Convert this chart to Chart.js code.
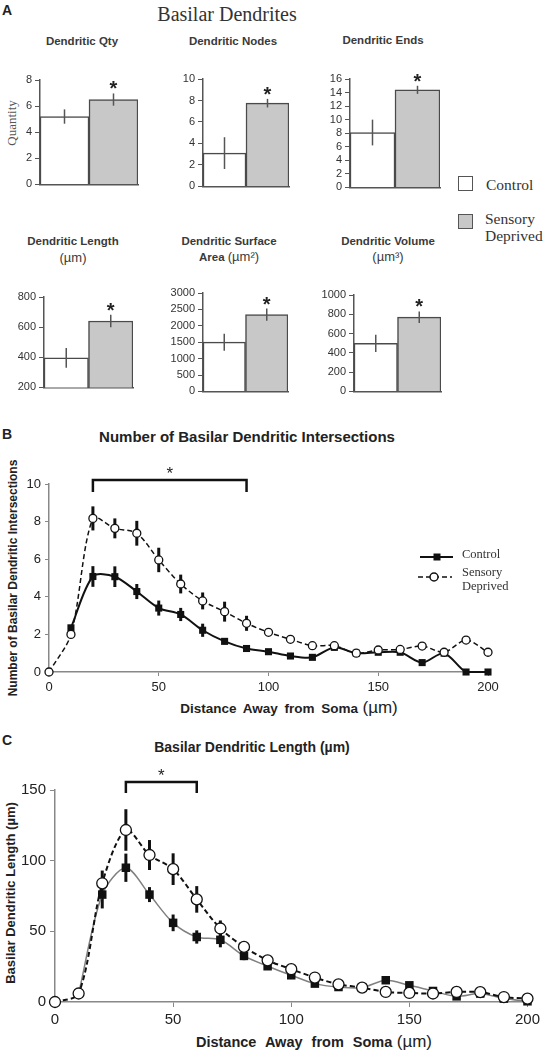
<!DOCTYPE html>
<html>
<head>
<meta charset="utf-8">
<script src="https://cdn.jsdelivr.net/npm/chart.js"></script>
<style>
  body { margin: 0; background: #fff; }
  #page { position: relative; width: 544px; height: 1050px; overflow: hidden; font-family: "Liberation Sans", Arial, sans-serif; color: #222; }
  .t { position: absolute; white-space: nowrap; line-height: 1; transform: translate(-50%, -50%); }
  .rot { transform: translate(-50%, -50%) rotate(-90deg); }
  .sub { font-weight: bold; font-size: 11.5px; color: #3a3a3a; }
  .serif { font-family: "Liberation Serif", "Times New Roman", serif; }
  .letter { position: absolute; font-weight: bold; font-size: 14px; line-height: 1; }
  .box { position: absolute; }
  .lgbox { position: absolute; width: 15px; height: 15px; border: 1.5px solid #555; box-sizing: border-box; }
</style>
</head>
<body>
<div id="page">
  <div class="letter" style="left:2px;top:3px">A</div>
  <div class="t serif" style="left:227px;top:14px;font-size:20px;color:#333">Basilar Dendrites</div>

  <div class="t sub" style="left:82px;top:42px">Dendritic Qty</div>
  <div class="t sub" style="left:233px;top:42px">Dendritic Nodes</div>
  <div class="t sub" style="left:383px;top:41px">Dendritic Ends</div>
  <div class="t sub" style="left:73px;top:242px">Dendritic Length</div>
  <div class="t sub" style="left:73px;top:257px;font-weight:normal;font-size:13px">(µm)</div>
  <div class="t sub" style="left:229px;top:242px">Dendritic Surface</div>
  <div class="t sub" style="left:229px;top:257px">Area <span style="font-weight:normal;font-size:13px">(µm²)</span></div>
  <div class="t sub" style="left:388px;top:242px">Dendritic Volume</div>
  <div class="t sub" style="left:388px;top:256px;font-weight:normal;font-size:13px">(µm³)</div>
  <div class="t rot serif" style="left:11px;top:123px;font-size:13px;color:#555">Quantity</div>

  <div class="lgbox" style="left:458px;top:176px;background:#fff"></div>
  <div class="serif" style="position:absolute;left:486px;top:176px;font-size:15.5px;line-height:17px;color:#333">Control</div>
  <div class="lgbox" style="left:458px;top:214px;background:#c8c8c8"></div>
  <div class="serif" style="position:absolute;left:485px;top:210px;font-size:15.5px;line-height:17px;color:#333">Sensory<br>Deprived</div>

  <div class="letter" style="left:2px;top:427px">B</div>
  <div class="t" style="left:247px;top:436px;font-weight:bold;font-size:15px">Number of Basilar Dendritic Intersections</div>
  <div class="t rot" style="left:13px;top:578px;font-weight:bold;font-size:12px">Number of Basilar Dendritic Intersections</div>
  <div class="t" style="left:289px;top:707px"><b style="font-size:13.5px;word-spacing:3px">Distance Away from Soma</b> <span style="font-size:17px">(µm)</span></div>

  <div class="letter" style="left:2px;top:733px">C</div>
  <div class="t" style="left:252px;top:747px;font-weight:bold;font-size:14px">Basilar Dendritic Length (µm)</div>
  <div class="t rot" style="left:10px;top:893px;font-weight:bold;font-size:13px">Basilar Dendritic Length (µm)</div>
  <div class="t" style="left:314px;top:1041px"><b style="font-size:14.5px;word-spacing:5px">Distance Away from Soma</b> <span style="font-size:17px">(µm)</span></div>
</div>

<script>
const FONT = '"Liberation Sans", Arial, sans-serif';
const SERIF = '"Liberation Serif", "Times New Roman", serif';

// ---- Panel A: means and error bars, [Control, Sensory Deprived] ----
const groups = ['Control', 'Sensory Deprived'];
const qtyMean = [5.2, 6.5];
const qtyErr = [0.55, 0.47];
const nodesMean = [3.1, 7.75];
const nodesErr = [1.48, 0.4];
const endsMean = [8.1, 14.4];
const endsErr = [1.9, 0.6];
const lengthMean = [396, 641];
const lengthErr = [65, 42];
const surfaceMean = [1500, 2340];
const surfaceErr = [260, 185];
const volumeMean = [498, 770];
const volumeErr = [90, 60];
const significant = [false, true];

// ---- Panel B: intersections vs distance ----
const distance = [0, 10, 20, 30, 40, 50, 60, 70, 80, 90, 100, 110, 120, 130, 140, 150, 160, 170, 180, 190, 200];
const ctlInter = [null, 2.35, 5.08, 5.07, 4.28, 3.4, 3.06, 2.22, 1.63, 1.25, 1.08, 0.85, 0.78, 1.31, 1.0, 1.05, 1.05, 0.5, 1.0, 0, 0];
const sdInter = [0, 2.0, 8.17, 7.64, 7.38, 5.96, 4.68, 3.78, 3.21, 2.59, 2.11, 1.74, 1.4, 1.4, 1.0, 1.17, 1.2, 1.38, 1.05, 1.7, 1.05];
const ctlInterErr = [null, null, 0.55, 0.55, 0.4, 0.4, 0.35, 0.35, 0.15, null, null, null, null, null, null, null, null, null, null, null, null];
const sdInterErr = [null, null, 0.64, 0.53, 0.66, 0.65, 0.5, 0.45, 0.53, 0.4, null, null, null, null, null, null, null, null, null, null, null];
const bracketB = [20, 90];

// ---- Panel C: dendritic length vs distance ----
const ctlLength = [null, 6, 76, 95, 76, 56, 46, 44, 32.6, 25.3, 18.9, 13, 10.6, 10.2, 15.4, 11.8, 7.8, 4, 6, 2.4, 0.5];
const sdLength = [0, 6, 84, 121.7, 104, 94, 72.6, 52, 39, 29.5, 23.2, 17.3, 12.5, 10.2, 7.1, 6.4, 6, 7.1, 7, 3.5, 2.4];
const ctlLengthErr = [null, null, 9.8, 10, 5.3, 5.9, 4.7, 5.3, 3, null, null, null, null, null, null, null, null, null, null, null, null];
const sdLengthErr = [null, null, 9, 14.7, 10.6, 11.2, 9.4, 5.7, 3.5, 2, null, null, null, null, null, null, null, null, null, null, null];
const bracketC = [30, 60];

const page = document.getElementById('page');
const plain = v => String(v);

function addCanvas(left, top, width, height) {
    const wrap = document.createElement('div');
    wrap.className = 'box';
    wrap.style.left = left + 'px';
    wrap.style.top = top + 'px';
    wrap.style.width = width + 'px';
    wrap.style.height = height + 'px';
    const cv = document.createElement('canvas');
    wrap.appendChild(cv);
    page.appendChild(wrap);
    return cv;
}

// error bars + asterisk for the small bar charts
const barErrPlugin = {
    id: 'barErr',
    afterDatasetsDraw(chart) {
        const ctx = chart.ctx;
        const y = chart.scales.y;
        const ds = chart.data.datasets[0];
        const meta = chart.getDatasetMeta(0);
        ctx.save();
        ctx.strokeStyle = '#555';
        ctx.lineWidth = 1.5;
        meta.data.forEach((bar, i) => {
            const top = y.getPixelForValue(ds.data[i] + ds.err[i]);
            const bot = y.getPixelForValue(ds.data[i] - ds.err[i]);
            ctx.beginPath();
            ctx.moveTo(bar.x, top);
            ctx.lineTo(bar.x, bot);
            ctx.stroke();
            if (ds.star[i]) {
                ctx.fillStyle = '#222';
                ctx.font = 'bold 20px ' + FONT;
                ctx.textAlign = 'center';
                ctx.textBaseline = 'alphabetic';
                ctx.fillText('*', bar.x, top + 2);
            }
        });
        ctx.restore();
    }
};

function barChart(area, means, errs, yMin, yMax, step) {
    const padL = 40, padT = 30;
    const cv = addCanvas(area[0] - padL, area[1] - padT, area[2] - area[0] + padL + 4, area[3] - area[1] + padT + 4);
    new Chart(cv, {
        type: 'bar',
        data: {
            labels: groups,
            datasets: [{
                data: means,
                err: errs,
                star: significant,
                backgroundColor: ['#ffffff', '#c8c8c8'],
                borderColor: '#4a4a4a',
                borderWidth: 1.5,
                categoryPercentage: 1,
                barPercentage: 1
            }]
        },
        options: {
            responsive: true,
            maintainAspectRatio: false,
            animation: false,
            layout: { padding: { top: padT, right: 4, bottom: 4, left: 0 } },
            plugins: { legend: { display: false }, tooltip: { enabled: false } },
            scales: {
                x: {
                    grid: { display: false },
                    border: { color: '#555', width: 1.5 },
                    ticks: { display: false },
                    afterFit: s => { s.height = 0; }
                },
                y: {
                    min: yMin,
                    max: yMax,
                    ticks: { stepSize: step, autoSkip: false, callback: plain, color: '#333', padding: 3, font: { family: FONT, size: 11 } },
                    grid: { drawOnChartArea: false, tickLength: 5, color: '#555' },
                    border: { color: '#555', width: 1.5 },
                    afterFit: s => { s.width = padL; }
                }
            }
        },
        plugins: [barErrPlugin]
    });
}

barChart([40, 80, 138, 190], qtyMean, qtyErr, 0, 8, 2);
barChart([203, 79, 289, 192], nodesMean, nodesErr, 0, 10, 2);
barChart([350, 79, 440, 193], endsMean, endsErr, 0, 16, 2);
barChart([44, 297, 133, 393], lengthMean, lengthErr, 200, 800, 200);
barChart([203, 293, 288, 397], surfaceMean, surfaceErr, 0, 3000, 500);
barChart([354, 295, 441, 397], volumeMean, volumeErr, 0, 1000, 200);

// vertical error bars under the line markers
const lineErrPlugin = {
    id: 'lineErr',
    beforeDatasetsDraw(chart) {
        const ctx = chart.ctx;
        const y = chart.scales.y;
        ctx.save();
        ctx.strokeStyle = '#111';
        ctx.lineWidth = 3;
        chart.data.datasets.forEach((ds, d) => {
            const meta = chart.getDatasetMeta(d);
            ds.err.forEach((e, i) => {
                if (e == null || ds.data[i].y == null) return;
                const pt = meta.data[i];
                ctx.beginPath();
                ctx.moveTo(pt.x, y.getPixelForValue(ds.data[i].y + e));
                ctx.lineTo(pt.x, y.getPixelForValue(ds.data[i].y - e));
                ctx.stroke();
            });
        });
        ctx.restore();
    }
};

function bracketPlugin(range, lift, drop, starSize) {
    return {
        id: 'bracket',
        afterDraw(chart) {
            const ctx = chart.ctx;
            const x = chart.scales.x;
            const x1 = x.getPixelForValue(range[0]);
            const x2 = x.getPixelForValue(range[1]);
            const yb = chart.chartArea.top - lift;
            ctx.save();
            ctx.strokeStyle = '#111';
            ctx.lineWidth = 2.5;
            ctx.beginPath();
            ctx.moveTo(x1, yb + drop);
            ctx.lineTo(x1, yb);
            ctx.lineTo(x2, yb);
            ctx.lineTo(x2, yb + drop);
            ctx.stroke();
            ctx.fillStyle = '#222';
            ctx.font = starSize + 'px ' + FONT;
            ctx.textAlign = 'center';
            ctx.textBaseline = 'alphabetic';
            ctx.fillText('*', (x1 + x2) / 2, yb - 1);
            ctx.restore();
        }
    };
}

// legend drawn inside panel B
const legendBPlugin = {
    id: 'legendB',
    afterDraw(chart) {
        const ctx = chart.ctx;
        const top = chart.chartArea.top;
        ctx.save();
        ctx.strokeStyle = '#111';
        ctx.lineWidth = 2;
        ctx.beginPath();
        ctx.moveTo(420, top + 73);
        ctx.lineTo(453, top + 73);
        ctx.stroke();
        ctx.fillStyle = '#111';
        ctx.fillRect(433.5, top + 69.5, 7, 7);
        ctx.lineWidth = 1.5;
        ctx.setLineDash([5, 3]);
        ctx.beginPath();
        ctx.moveTo(418, top + 93);
        ctx.lineTo(452, top + 93);
        ctx.stroke();
        ctx.setLineDash([]);
        ctx.fillStyle = '#fff';
        ctx.beginPath();
        ctx.arc(434, top + 93, 4, 0, Math.PI * 2);
        ctx.fill();
        ctx.stroke();
        ctx.fillStyle = '#333';
        ctx.font = '12.5px ' + SERIF;
        ctx.textBaseline = 'middle';
        ctx.fillText('Control', 462, top + 71);
        ctx.fillText('Sensory', 462, top + 89);
        ctx.fillText('Deprived', 462, top + 103);
        ctx.restore();
    }
};

function toPoints(ys) {
    return distance.map((d, i) => ({ x: d, y: ys[i] }));
}

function lineChart(box, pad, axisW, axisH, cfg) {
    const cv = addCanvas(box[0], box[1], box[2], box[3]);
    new Chart(cv, {
        type: 'line',
        data: {
            datasets: [{
                label: 'Sensory Deprived',
                data: toPoints(cfg.sd),
                err: cfg.sdErr,
                borderColor: '#111',
                borderWidth: cfg.sdWidth,
                borderDash: [5, 3],
                tension: 0.3,
                pointStyle: 'circle',
                pointRadius: cfg.circleR,
                pointBackgroundColor: '#fff',
                pointBorderColor: '#111',
                pointBorderWidth: 1.3,
                clip: false
            }, {
                label: 'Control',
                data: toPoints(cfg.ctl),
                err: cfg.ctlErr,
                borderColor: cfg.ctlColor,
                borderWidth: cfg.ctlWidth,
                tension: 0.3,
                pointStyle: 'rect',
                pointRadius: cfg.rectR,
                pointBackgroundColor: '#111',
                pointBorderColor: '#111',
                pointBorderWidth: 0,
                clip: false
            }]
        },
        options: {
            responsive: true,
            maintainAspectRatio: false,
            animation: false,
            layout: { padding: pad },
            plugins: { legend: { display: false }, tooltip: { enabled: false } },
            scales: {
                x: {
                    type: 'linear',
                    min: 0,
                    max: 200,
                    ticks: { stepSize: 50, color: '#222', padding: cfg.tickPad, font: { family: FONT, size: cfg.tickSize } },
                    grid: { drawOnChartArea: false, tickLength: cfg.tickLen, color: '#888' },
                    border: { color: '#888', width: 1.5 },
                    afterFit: s => { s.height = axisH; }
                },
                y: {
                    min: 0,
                    max: cfg.yMax,
                    ticks: { stepSize: cfg.yStep, color: '#222', padding: cfg.tickPad, font: { family: FONT, size: cfg.tickSize } },
                    grid: { drawOnChartArea: false, tickLength: cfg.tickLen, color: '#888' },
                    border: { color: '#888', width: 1.5 },
                    afterFit: s => { s.width = axisW; }
                }
            }
        },
        plugins: cfg.plugins
    });
}

// Panel B: plot area 49..488 x 484..672
lineChart([0, 455, 544, 245], { top: 29, right: 56, bottom: 0, left: 0 }, 49, 28, {
    ctl: ctlInter, sd: sdInter, ctlErr: ctlInterErr, sdErr: sdInterErr,
    yMax: 10, yStep: 2, tickSize: 13, tickPad: 4, tickLen: 4,
    ctlColor: '#111', ctlWidth: 2, sdWidth: 1.5, circleR: 4, rectR: 5,
    plugins: [lineErrPlugin, bracketPlugin(bracketB, 4, 12, 17), legendBPlugin]
});

// Panel C: plot area 55..533 x 790..1002
lineChart([0, 760, 544, 272], { top: 30, right: 11, bottom: 0, left: 0 }, 55, 30, {
    ctl: ctlLength, sd: sdLength, ctlErr: ctlLengthErr, sdErr: sdLengthErr,
    yMax: 150, yStep: 50, tickSize: 15, tickPad: 4, tickLen: 5,
    ctlColor: '#808080', ctlWidth: 1.5, sdWidth: 2, circleR: 5.5, rectR: 6,
    plugins: [lineErrPlugin, bracketPlugin(bracketC, 8, 11, 17)]
});
</script>
</body>
</html>
